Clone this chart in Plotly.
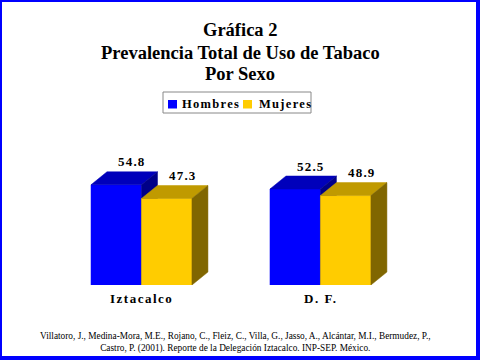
import plotly.graph_objects as go

categories = ["Iztacalco", "D. F."]
series_names = ["Hombres", "Mujeres"]
hombres = [54.8, 52.5]
mujeres = [47.3, 48.9]
values = [hombres, mujeres]

front_colors = ["#0000FF", "#FFCC00"]
top_colors = ["#0000BB", "#C09A00"]
side_colors = ["#000088", "#806600"]

SERIF = "Liberation Serif"

W_BAR = 0.282      # bar width in x units
DX = 0.0894        # depth offset in x units
DY = 7.11          # depth offset in y units


def spaced(t, s=1.2):
    return f'<span style="letter-spacing:{s}px">{t}</span>'


fig = go.Figure()

annotations = []
for i, cat in enumerate(categories):
    for j in range(len(series_names)):
        v = values[j][i]
        a = i - W_BAR + j * W_BAR
        b = a + W_BAR
        # front face
        fig.add_trace(go.Scatter(x=[a, b, b, a, a], y=[0, 0, v, v, 0], fill="toself",
                                 fillcolor=front_colors[j], mode="lines",
                                 line=dict(color=front_colors[j], width=0.5),
                                 name=series_names[j], legendgroup=series_names[j],
                                 showlegend=False, hoverinfo="skip"))
        # top face
        fig.add_trace(go.Scatter(x=[a, b, b + DX, a + DX, a], y=[v, v, v + DY, v + DY, v],
                                 fill="toself", fillcolor=top_colors[j], mode="lines",
                                 line=dict(color=top_colors[j], width=0.5),
                                 legendgroup=series_names[j],
                                 showlegend=False, hoverinfo="skip"))
        # side face
        fig.add_trace(go.Scatter(x=[b, b + DX, b + DX, b, b], y=[0, DY, v + DY, v, 0],
                                 fill="toself", fillcolor=side_colors[j], mode="lines",
                                 line=dict(color=side_colors[j], width=0.5),
                                 legendgroup=series_names[j],
                                 showlegend=False, hoverinfo="skip"))
        annotations.append(dict(x=(a + b) / 2 + DX, y=v + DY, xref="x", yref="y",
                                text=spaced(f"{v:.1f}", 1.2), showarrow=False, yshift=10,
                                font=dict(family=SERIF, size=13, color="black", weight="bold")))
    annotations.append(dict(x=i, y=0, xref="x", yref="y", text=spaced(cat, 1.5), showarrow=False,
                            yshift=-13, font=dict(family=SERIF, size=13, color="black", weight="bold")))

# Plot area geometry: left 40, width 400; top 157, height 128
L, PW, T, PH = 40, 400, 157, 128


def px_x(p):
    return (p - L) / PW


def px_y(p):
    return (T + PH - p) / PH


title_lines = ["Gráfica 2", "Prevalencia Total de Uso de Tabaco", "Por Sexo"]
title_y = [30, 53, 74]
for line, yy in zip(title_lines, title_y):
    annotations.append(dict(x=0.5, y=px_y(yy), xref="paper", yref="paper", yanchor="middle",
                            text=line, showarrow=False, align="center",
                            font=dict(family=SERIF, size=18.5, color="black", weight="bold")))

annotations.append(dict(x=px_x(235), y=px_y(342), xref="paper", yref="paper", yanchor="middle",
                        text="Villatoro, J., Medina-Mora, M.E., Rojano, C., Fleiz, C., Villa, G., Jasso, A., Alcántar, M.I., Bermudez, P.,<br>Castro, P. (2001). Reporte de la Delegación Iztacalco. INP-SEP. México.",
                        showarrow=False, align="center",
                        font=dict(family=SERIF, size=9.3, color="black")))

# Legend (drawn manually to match the compact reference legend)
legend_items = [(168, 180), (243, 257)]
shapes = [dict(type="rect", xref="paper", yref="paper",
               x0=px_x(163), x1=px_x(311), y0=px_y(113), y1=px_y(92),
               line=dict(color="#888888", width=1), fillcolor="white", layer="above")]
for j, (sx, tx) in enumerate(legend_items):
    shapes.append(dict(type="rect", xref="paper", yref="paper",
                       x0=px_x(sx), x1=px_x(sx + 9), y0=px_y(108.5), y1=px_y(100),
                       line=dict(width=0), fillcolor=front_colors[j], layer="above"))
    annotations.append(dict(x=px_x(tx), y=px_y(103.5), xref="paper", yref="paper",
                            xanchor="left", yanchor="middle", text=spaced(series_names[j], 1.3),
                            showarrow=False,
                            font=dict(family=SERIF, size=12.5, color="black", weight="bold")))

shapes.append(dict(type="rect", xref="paper", yref="paper",
                   x0=px_x(0), x1=px_x(478), y0=px_y(358), y1=px_y(0),
                   line=dict(color="#0000FF", width=4), fillcolor="rgba(0,0,0,0)", layer="above"))

fig.update_layout(
    width=480, height=360,
    margin=dict(l=L, r=480 - L - PW, t=T, b=360 - T - PH),
    paper_bgcolor="white", plot_bgcolor="white",
    xaxis=dict(range=[-0.567, 1.668], visible=False, fixedrange=True),
    yaxis=dict(range=[0, 70], visible=False, fixedrange=True),
    showlegend=False,
    annotations=annotations,
    shapes=shapes,
)

fig.write_html("out.html", config={"displayModeBar": False},
               post_script="document.body.style.margin='0';")
